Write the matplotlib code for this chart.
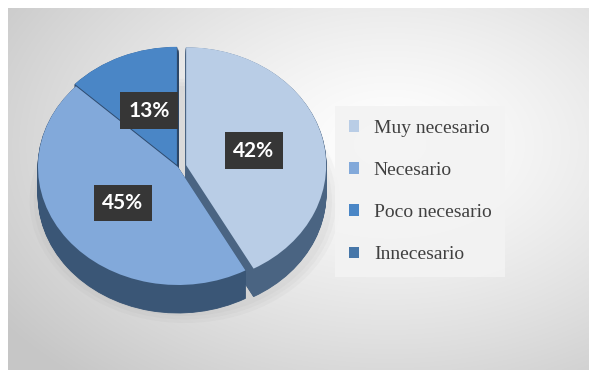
import numpy as np
import matplotlib
matplotlib.use("Agg")
import matplotlib.pyplot as plt

categorias = ["Muy necesario", "Necesario", "Poco necesario", "Innecesario"]
porcentajes = [42, 45, 13, 0]
colores = ["#b9cde6", "#82a9da", "#4a86c6", "#4676a8"]
colores_lado = ["#4a6482", "#3a5676", "#2f4c70", "#2c4666"]
separacion = [0.06, 0.0, 0.02, 0.0]

W, H = 589, 370
fig = plt.figure(figsize=(W / 100, H / 100), dpi=100)
fig.patch.set_facecolor("white")

# fondo con degradado radial
bg = fig.add_axes([8 / W, 0, (W - 8) / W, (H - 8) / H])
yy, xx = np.mgrid[0:200, 0:320]
d = np.sqrt(((xx - 210) / 260.0) ** 2 + ((yy - 75) / 170.0) ** 2)
g = 1.0 - 0.22 * np.clip(d, 0, 1) ** 1.3
bg.imshow(np.dstack([g, g, g]), aspect="auto", interpolation="bilinear")
bg.axis("off")

# pastel en perspectiva: elipse con canto
cx, cy, rx, ry = 178, 167, 140, 118
ax = fig.add_axes([0, 0, 1, 1])
ax.patch.set_alpha(0)
prof = 28 / ry

# sombra suave bajo el pastel
for k, a in enumerate([0.05, 0.05, 0.05]):
    ax.add_patch(matplotlib.patches.Ellipse((0.05, -prof - 0.05), 2.1 + 0.06 * k, 1.95 + 0.06 * k,
                                            fc="#808080", ec="none", alpha=a))

for off in np.linspace(prof, 0.005, 40):
    ax.pie(porcentajes, explode=separacion, colors=colores_lado, startangle=90,
           counterclock=False, center=(0, -off),
           wedgeprops=dict(linewidth=0.6, edgecolor=None))
    for w, c in zip(ax.patches[-4:], colores_lado):
        w.set_edgecolor(c)

wedges, _, autotexts = ax.pie(
    porcentajes, explode=separacion, colors=colores, startangle=90,
    counterclock=False, pctdistance=0.5,
    autopct=lambda p: f"{p:.0f}%" if p > 0.5 else "",
    wedgeprops=dict(linewidth=0),
    textprops=dict(color="white", fontsize=15, fontweight="bold", family="Lato"))
for t in autotexts:
    t.set_bbox(dict(boxstyle="square,pad=0.4", fc="#363636", ec="none"))

ax.set_aspect("auto")
ax.set_xlim((0 - cx) / rx, (W - cx) / rx)
ax.set_ylim((cy - H) / ry, cy / ry)
ax.axis("off")

leg = fig.legend(wedges, categorias, loc="upper left",
                 bbox_to_anchor=(335 / W, 1 - 106 / H),
                 prop=dict(family="Liberation Serif", size=14),
                 labelcolor="#404040", frameon=True, fancybox=False,
                 facecolor="#f3f3f3", edgecolor="none", framealpha=0.9,
                 handlelength=0.55, handleheight=0.55, handletextpad=0.75,
                 labelspacing=1.3, borderpad=0.7, borderaxespad=0)

fig.savefig("out.png", dpi=100)
